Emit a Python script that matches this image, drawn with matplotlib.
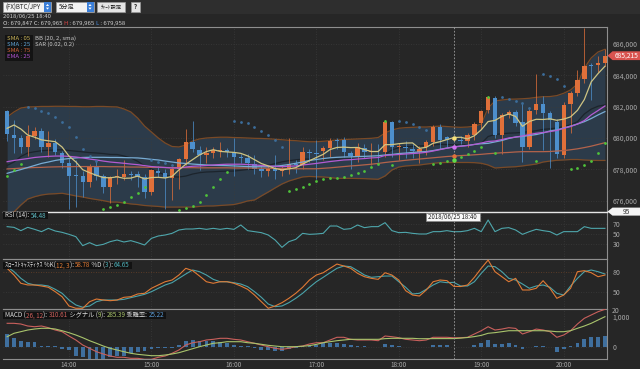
import numpy as np
import pandas as pd
import matplotlib
matplotlib.use('Agg')
import matplotlib.pyplot as plt
from matplotlib.patches import Rectangle, Polygon

plt.rcParams['font.family'] = ['Noto Sans CJK JP', 'DejaVu Sans']

# ---------------- data (5-minute candles, 13:15 .. 20:30) ----------------
opens = [681739, 680172, 679981, 679408, 680127, 680465, 679408, 679701, 679064, 678388,
         677650, 677579, 677216, 678172, 677579, 676860, 677497, 677535, 677707, 677688,
         677497, 676580, 677917, 677790, 677433, 678006, 678643, 679764, 679236, 678917,
         679064, 679180, 679236, 679108, 678771, 678707, 678344, 678006, 677879, 678044,
         677917, 678006, 678344, 678280, 679127, 679025, 679190, 679363, 679809, 679873,
         679064, 678853, 679363, 679127, 679170, 679127, 681038, 679408, 679430, 679318,
         679127, 679408, 679764, 680720, 680050, 679847, 679904, 679809, 680191, 680936,
         681784, 682529, 680191, 681465, 681675, 681038, 679446, 681784, 682166, 681573,
         681038, 678917, 682166, 682886, 683739, 684650, 684631, 684758]
closes = [680255, 680000, 679408, 680127, 680465, 679408, 679701, 679127, 678427, 677579,
          677560, 677216, 678172, 677579, 676860, 677497, 677520, 677707, 677650, 677497,
          676580, 677962, 677790, 677433, 678006, 678643, 679764, 679280, 678917, 679064,
          679236, 679240, 679108, 678771, 678750, 678427, 678044, 677879, 678006, 677917,
          678006, 678344, 678280, 679127, 679025, 679000, 679363, 679809, 679790, 679127,
          678853, 679408, 679127, 679170, 679140, 681038, 679408, 679430, 679370, 679191,
          679300, 679745, 680720, 679873, 679847, 679965, 679828, 680191, 680892, 681739,
          682593, 680191, 681465, 681675, 680936, 679446, 681739, 682166, 681612, 681147,
          678981, 682102, 682886, 683695, 684586, 684600, 684758, 685215]
highs = [681800, 681150, 680190, 680830, 680700, 680620, 680460, 679950, 679200, 678700,
         678600, 677900, 678350, 678600, 677700, 677600, 678000, 678600, 677900, 677900,
         677700, 678050, 678200, 678000, 678100, 678700, 680560, 681100, 679500, 679400,
         679400, 679770, 679350, 680000, 679000, 679000, 678900, 678300, 678200, 678900,
         678200, 680000, 678600, 679400, 679300, 679900, 679500, 680000, 680000, 680050,
         679200, 679700, 679600, 679700, 679600, 681150, 681100, 679700, 679800, 679600,
         679500, 679900, 680800, 680900, 680150, 679965, 680100, 680300, 681000, 681800,
         682700, 682650, 681600, 681800, 681800, 682210, 682000, 684100, 682650, 681700,
         681200, 682300, 683000, 684330, 687000, 684800, 685230, 685700]
lows = [679800, 679050, 679030, 678850, 679950, 679130, 678770, 678900, 678100, 675500,
        675600, 676260, 676900, 677300, 676500, 675860, 677100, 677300, 677300, 676900,
        676200, 676400, 677500, 675500, 676050, 676730, 678300, 679100, 677960, 678400,
        678700, 678800, 678800, 677600, 678400, 678000, 677700, 677500, 677600, 677400,
        677600, 677700, 677800, 678000, 678500, 677400, 678600, 678800, 679300, 678800,
        678000, 678500, 678700, 678300, 678500, 678800, 678800, 678600, 678700, 678700,
        678400, 678900, 679500, 679300, 679400, 679800, 679600, 679400, 679900, 680600,
        681600, 680000, 678950, 681300, 680760, 678490, 679300, 681500, 679250, 678100,
        678700, 678700, 680300, 682700, 683500, 682450, 684200, 684600]

sma5_head = [680618, 680828, 680573, 680191]   # first values (history before the window)

bb_upper = [681340, 681660, 681910, 681980, 681990, 682010, 682010, 682020, 682020, 682010,
            682010, 681990, 681990, 682010, 682010, 681990, 681980, 681850, 681660, 681270,
            680760, 680380, 680000, 679680, 679460, 679430, 679550, 679810, 679940, 680000,
            680030, 680050, 680050, 680030, 680020, 680000, 679980, 679970, 679950, 679920,
            679890, 679850, 679830, 679790, 679760, 679760, 679790, 679830, 679870, 679900,
            679920, 679940, 679960, 679980, 680030, 680320, 680510, 680620, 680660, 680680,
            680700, 680700, 680730, 680760, 680730, 680700, 680680, 680700, 680750, 680890,
            681910, 682360, 682420, 682470, 682480, 682500, 682530, 682590, 682630, 682640,
            682700, 682850, 683060, 683440, 684460, 685100, 685480, 685650]
bb_lower = [675160, 675290, 675730, 676110, 676260, 676370, 676430, 676450, 676480, 676400,
            676310, 676240, 676150, 676080, 676010, 675920, 675920, 675860, 675800, 675760,
            675700, 675670, 675640, 675600, 675600, 675600, 675600, 675600, 675640, 675670,
            675670, 675700, 675730, 675760, 675860, 675990, 676050, 676310, 676560, 676820,
            677070, 677260, 677390, 677520, 677550, 677530, 677520, 677480, 677430, 677430,
            677430, 677420, 677410, 677390, 677370, 677580, 677960, 678150, 678220, 678250,
            678280, 678340, 678390, 678430, 678440, 678440, 678440, 678440, 678430, 678390,
            678280, 678090, 678120, 678150, 678170, 678220, 678280, 678340, 678470, 678530,
            678580, 678600, 678630, 678630, 678600, 678580, 678570, 678570]
sma25 = [677750, 677870, 677990, 678120, 678250, 678380, 678470, 678570, 678640, 678690,
         678730, 678760, 678770, 678770, 678770, 678760, 678760, 678750, 678740, 678730,
         678690, 678640, 678600, 678530, 678470, 678410, 678380, 678340, 678310, 678280,
         678260, 678250, 678240, 678220, 678200, 678180, 678170, 678170, 678170, 678200,
         678250, 678310, 678390, 678470, 678570, 678630, 678690, 678740, 678770, 678790,
         678800, 678820, 678830, 678850, 678870, 678920, 678950, 679010, 679040, 679080,
         679110, 679140, 679200, 679280, 679360, 679430, 679490, 679530, 679590, 679630,
         679660, 679750, 679840, 679970, 680060, 680100, 680160, 680220, 680320, 680450,
         680510, 680640, 680760, 680890, 681040, 681240, 681470, 681680]
ema25 = [678490, 678570, 678630, 678690, 678760, 678800, 678830, 678850, 678850, 678830,
         678790, 678730, 678660, 678600, 678530, 678470, 678430, 678390, 678340, 678300,
         678240, 678180, 678150, 678120, 678090, 678090, 678150, 678200, 678220, 678250,
         678280, 678310, 678330, 678330, 678330, 678310, 678280, 678250, 678220, 678200,
         678180, 678200, 678220, 678280, 678330, 678380, 678440, 678500, 678550, 678600,
         678620, 678660, 678690, 678730, 678750, 678890, 678920, 678950, 678980, 679010,
         679040, 679090, 679170, 679260, 679350, 679430, 679470, 679520, 679590, 679680,
         679780, 679810, 679900, 680000, 680060, 680130, 680220, 680300, 680350, 680410,
         680480, 680620, 680730, 680890, 681110, 681470, 681750, 682040]
sma75 = [678030, 678050, 678080, 678100, 678120, 678130, 678150, 678160, 678170, 678170,
         678180, 678180, 678180, 678180, 678180, 678170, 678170, 678160, 678150, 678150,
         678140, 678130, 678130, 678120, 678110, 678110, 678110, 678110, 678100, 678100,
         678100, 678100, 678100, 678090, 678090, 678090, 678080, 678080, 678070, 678060,
         678060, 678050, 678040, 678040, 678040, 678040, 678070, 678100, 678140, 678180,
         678220, 678250, 678290, 678330, 678380, 678440, 678490, 678530, 678580, 678620,
         678660, 678700, 678740, 678780, 678820, 678850, 678880, 678900, 678930, 678960,
         679000, 679030, 679060, 679080, 679110, 679130, 679130, 679130, 679130, 679140,
         679170, 679200, 679250, 679310, 679390, 679480, 679590, 679700]

# Parabolic SAR: below price (uptrend, green) / above price (downtrend, blue)
sar_up = [677580, 677960, 678340, None, None, None, None, None, None, None,
          None, None, None, None, 675460, 675590, 675730, 675940, 676220, 676520,
          676880, None, None, None, None, 675410, 675540, 675670, 675940, 676370,
          676900, 677370, 677850, None, None, None, None, None, None, None,
          None, 676640, 676730, 676860, 677070, 677230, 677360, 677450, 677480, 677530,
          677620, 677750, 677920, 678130, 678340, 681100, 678280, None, None, None,
          None, None, 678340, 678390, 678550, 678600, 678770, 678960, 679190, 679410,
          682590, 679020, None, None, None, None, None, 678550, None, None,
          None, None, 678030, 678070, 678280, 678550, 679020, 679660]
sar_down = [None, None, None, 681960, 681890, 681740, 681570, 681360, 681040, 680680,
            680080, 679320, 678850, 678530, None, None, None, None, None, None,
            None, 678600, 678490, 678390, 678280, None, None, None, None, None,
            None, None, None, 681100, 681040, 680940, 680720, 680470, 680190, 679870,
            679450, None, None, None, None, None, None, None, None, None,
            None, None, None, None, None, None, None, 681100, 681040, 680890,
            680720, 680510, None, None, None, None, None, None, None, None,
            None, None, 682590, 682480, 682380, 682210, 681940, None, 684080, 683970,
            683760, 683310, None, None, None, None, None, None]

rsi = [64.7, 63.3, 56.7, 63.3, 59.3, 54.7, 61.3, 56.0, 53.3, 49.3,
       44.7, 26.7, 32.7, 26.7, 29.3, 34.7, 38.0, 34.0, 36.7, 32.7,
       28.0, 41.3, 46.0, 48.0, 51.3, 58.0, 60.0, 60.0, 61.3, 59.3,
       61.3, 59.3, 61.3, 59.3, 68.0, 56.7, 54.7, 52.7, 48.0, 38.0,
       23.3, 34.7, 39.3, 51.3, 49.3, 50.0, 51.3, 66.0, 66.0, 59.3,
       60.7, 68.0, 62.7, 64.7, 64.7, 72.7, 56.7, 52.7, 53.3, 51.3,
       50.0, 50.0, 54.7, 54.7, 56.7, 54.5, 54.7, 56.7, 61.3, 54.7,
       78.0, 54.7, 61.3, 62.7, 58.0, 49.3, 54.7, 59.3, 56.7, 54.7,
       48.0, 54.7, 54.7, 54.7, 64.7, 61.3, 61.3, 61.3]
stoch_k = [85.4, 75.5, 63.3, 60.8, 60.8, 59.3, 57.4, 50.9, 43.5, 29.8,
           26.4, 26.4, 36.1, 40.1, 38.6, 37.6, 38.6, 42.6, 43.5, 47.5,
           48.5, 55.9, 60.8, 65.6, 68.1, 75.5, 85.4, 81.9, 74.0, 65.6,
           63.3, 65.6, 65.6, 63.3, 59.3, 54.4, 46.0, 36.1, 26.4, 29.8,
           34.7, 41.1, 48.5, 57.4, 68.1, 75.5, 78.9, 85.4, 91.7, 88.8,
           85.4, 78.0, 73.0, 70.6, 69.1, 78.9, 75.5, 68.1, 52.4, 46.0,
           44.5, 53.4, 65.6, 68.1, 67.2, 58.8, 58.5, 60.8, 72.1, 85.4,
           97.6, 80.4, 73.0, 65.6, 70.6, 53.4, 53.4, 55.9, 67.1, 55.9,
           41.1, 46.0, 55.9, 80.4, 81.9, 78.9, 73.0, 75.5]
stoch_d = [87.8, 80.4, 70.6, 63.3, 60.8, 60.8, 59.3, 54.4, 48.5, 38.6,
           31.3, 27.9, 29.8, 36.1, 38.6, 38.6, 38.6, 39.6, 42.1, 44.5,
           47.0, 50.9, 55.9, 60.8, 64.2, 70.6, 77.0, 82.9, 80.4, 75.5,
           69.1, 65.6, 65.6, 64.2, 62.2, 58.3, 50.9, 42.6, 32.7, 28.8,
           29.8, 34.7, 41.1, 48.5, 57.4, 65.6, 72.1, 78.9, 85.4, 88.8,
           87.8, 81.9, 75.5, 72.1, 73.0, 74.0, 74.0, 65.6, 57.4, 47.5,
           48.5, 54.4, 60.8, 65.6, 64.2, 64.7, 59.3, 59.3, 65.6, 78.0,
           88.8, 87.8, 80.4, 70.6, 68.1, 62.2, 55.9, 59.3, 60.8, 57.4,
           48.5, 46.0, 59.3, 70.6, 80.4, 82.9, 80.4, 77.0]
macd = [784, 784, 761, 696, 673, 696, 641, 565, 510, 369,
        239, 75, -33, -144, -219, -284, -327, -327, -360, -360,
        -392, -392, -327, -284, -196, -88, 75, 150, 183, 239,
        261, 294, 294, 261, 239, 183, 131, 75, 20, -33,
        -65, -33, 20, 42, 108, 150, 150, 239, 327, 327,
        261, 239, 239, 239, 216, 369, 346, 314, 261, 239,
        216, 239, 327, 327, 327, 311, 314, 327, 435, 542,
        673, 565, 596, 641, 618, 435, 510, 596, 565, 510,
        327, 402, 542, 761, 948, 1056, 1163, 1240]
signal = [346, 458, 511, 565, 598, 621, 621, 598, 542, 477,
          402, 314, 216, 131, 42, -33, -88, -144, -196, -229,
          -252, -274, -274, -252, -219, -176, -111, -46, 20, 75,
          131, 150, 183, 183, 183, 150, 131, 98, 65, 42,
          20, 20, 20, 35, 55, 95, 150, 183, 216, 239,
          261, 261, 261, 261, 261, 283, 294, 294, 294, 294,
          280, 282, 284, 285, 285, 285, 300, 320, 350, 390,
          458, 479, 510, 542, 542, 542, 542, 542, 542, 531,
          510, 510, 542, 621, 696, 784, 892, 1000]
hist = [436, 305, 218, 163, 163, 55, 33, 33, -55, -87,
        -272, -327, -414, -381, -381, -327, -272, -272, -196, -163,
        -131, -55, -33, -33, -10, 87, 218, 240, 218, 196,
        196, 163, 131, 87, 55, 33, -33, -87, -87, -109,
        -109, -55, -33, 33, 55, 87, 130, 150, 150, 110,
        75, 45, 45, 20, 20, 110, 75, 45, 10, 0,
        10, 20, 65, 65, 65, 25, 20, 20, 65, 150,
        240, 110, 110, 130, 75, -65, 20, 45, 45, 20,
        -160, -65, 45, 150, 260, 330, 350, 370]

hour_idx = [9, 21, 33, 45, 57, 69, 81]
hour_labels = ['14:00', '15:00', '16:00', '17:00', '18:00', '19:00', '20:00']
price_ticks = [676000, 678000, 680000, 682000, 684000, 686000]
cursor_idx = 65
last_price = 685215

# ---------------- figure ----------------
W, H = 640, 369
BG = '#262626'
fig = plt.figure(figsize=(W / 100, H / 100), dpi=100, facecolor=BG)


def fx(px):
    return px / W


def fy(py):
    return 1 - py / H


n = len(closes)
x = np.arange(n)
o = np.array(opens, float)
c = np.array(closes, float)
hi = np.array(highs, float)
lo = np.array(lows, float)
sma5 = pd.Series(c).rolling(5, min_periods=1).mean().values
sma5[:4] = sma5_head
up_b = np.array(bb_upper, float)
lo_b = np.array(bb_lower, float)
mid_b = (up_b + lo_b) / 2
sar_u = np.array([np.nan if v is None else v for v in sar_up], float)
sar_d = np.array([np.nan if v is None else v for v in sar_down], float)

SPINE = '#8e8e8e'
GRID = '#3b3b3b'
TICKC = '#a8a8a8'
FS = 5


def make_ax(top, bottom):
    ax = fig.add_axes([fx(3), fy(bottom), 604 / W, (bottom - top) / H])
    ax.set_facecolor(BG)
    ax.set_xlim(-0.6, 87.3)
    ax.spines['left'].set_visible(False)
    for s in ['top', 'right', 'bottom']:
        ax.spines[s].set_color(SPINE)
        ax.spines[s].set_linewidth(0.8)
    ax.yaxis.tick_right()
    ax.tick_params(axis='y', length=0, pad=4, labelsize=FS, labelcolor=TICKC)
    ax.tick_params(axis='x', length=0, pad=1, labelsize=FS, labelcolor=TICKC)
    ax.set_xticks(hour_idx)
    ax.set_xticklabels([])
    for h in hour_idx:
        ax.axvline(h, color=GRID, lw=0.6, ls=(0, (1, 2)), zorder=0.6)
    ax.axvline(cursor_idx, color='#a0a0a0', lw=0.6, ls=(0, (2, 2)), zorder=6)
    return ax


# ---- main price panel ----
ax = make_ax(27.3, 211.7)
ax.set_ylim(675305, 687052)
ax.set_yticks(price_ticks)
ax.set_yticklabels([f'{v:,}' for v in price_ticks])
for p in price_ticks:
    ax.axhline(p, color=GRID, lw=0.6, ls=(0, (1, 2)), zorder=0.6)
ax.fill_between(x, lo_b, up_b, color='#2c3b4a', lw=0, zorder=0.5)
ax.plot(x, up_b, color='#7a4a26', lw=0.9, zorder=1)
ax.plot(x, lo_b, color='#7a4a26', lw=0.9, zorder=1)
ax.plot(x, mid_b, color='#1c242c', lw=0.9, zorder=1)

UPC, DNC = '#e0703a', '#4d8fcc'
cols = [UPC if cc >= oo else DNC for oo, cc in zip(o, c)]
ax.vlines(x, lo, hi, colors=cols, lw=0.7, alpha=0.75, zorder=2)
bot = np.minimum(o, c)
hgt = np.maximum(np.abs(c - o), 55)
ax.bar(x, hgt, 0.64, bottom=bot, color=cols, lw=0, zorder=3)

ax.plot(x, sma75, color='#b3634a', lw=0.9, zorder=4)
ax.plot(x, sma25, color='#78acd4', lw=0.9, zorder=4)
ax.plot(x, ema25, color='#b35bd2', lw=0.9, zorder=4)
ax.plot(x, sma5, color='#cfc482', lw=0.9, zorder=4.5)
ax.plot(x, sar_u, 'o', color='#4fc23a', ms=2.0, mew=0, zorder=5)
ax.plot(x, sar_d, 'o', color='#3c6d9a', ms=2.0, mew=0, zorder=5)
ci = cursor_idx
ax.plot([ci], [sma5[ci]], 'o', color='#f6e27a', ms=3.2, mew=0, zorder=7)
ax.plot([ci], [ema25[ci]], 'o', color='#d070f0', ms=3.2, mew=0, zorder=7)
ax.plot([ci], [sma75[ci]], 'o', color='#e0703a', ms=3.2, mew=0, zorder=7)
ax.plot([ci], [sar_u[ci]], 'o', color='#5fdc48', ms=3.2, mew=0, zorder=7)

# ---- RSI ----
ax_r = make_ax(211.7, 259.3)
ax_r.set_ylim(-0.6, 94.6)
ax_r.set_yticks([30, 50, 70])
for v in [30, 50, 70]:
    ax_r.axhline(v, color=GRID, lw=0.6, ls=(0, (1, 2)), zorder=0.6)
ax_r.plot(x, rsi, color='#4ea6ac', lw=0.8, zorder=3)
ax_r.spines['top'].set_color('#e6e6e6')
ax_r.spines['top'].set_linewidth(1.0)

# ---- Stochastics ----
ax_s = make_ax(259.3, 309.3)
ax_s.set_ylim(24.9, 98.7)
ax_s.set_yticks([50, 80])
ax_s.axhline(80, color='#6a4228', lw=0.6, ls=(0, (1, 2)), zorder=0.6)
ax_s.axhline(50, color=GRID, lw=0.6, ls=(0, (1, 2)), zorder=0.6)
ax_s.plot(x, stoch_d, color='#4aa3aa', lw=0.8, zorder=3)
ax_s.plot(x, stoch_k, color='#e07a35', lw=0.8, zorder=3)

# ---- MACD ----
ax_m = make_ax(309.3, 359.3)
ax_m.set_ylim(-392, 1242)
ax_m.set_yticks([0, 1000])
ax_m.set_yticklabels(['0', '1,000'])
ax_m.axhline(0, color=GRID, lw=0.6, ls=(0, (1, 2)), zorder=0.6)
ax_m.bar(x, hist, 0.55, color='#3f6f9e', lw=0, zorder=2)
ax_m.plot(x, macd, color='#c9605c', lw=0.8, zorder=3)
ax_m.plot(x, signal, color='#a9c46c', lw=0.8, zorder=3)
ax_m.set_xticklabels(hour_labels, fontsize=4.6)

# ---------------- overlay texts / widgets ----------------
renderer = fig.canvas.get_renderer()


def rich(x0, yc, parts, size=FS, box=None):
    xx = x0
    for s, col in parts:
        t = fig.text(fx(xx), fy(yc), s, color=col, fontsize=size, va='center', ha='left', zorder=10)
        xx += t.get_window_extent(renderer).width
    if box is not None:
        fig.add_artist(Rectangle((fx(x0 - 2), fy(yc + box)), (xx - x0 + 4) / W, 2 * box / H,
                                 transform=fig.transFigure, color='#121212', lw=0, zorder=9))
    return xx


def fig_rect(x0, y0, x1, y1, fc, ec='none', z=8, lw=0.5):
    fig.add_artist(Rectangle((fx(x0), fy(y1)), (x1 - x0) / W, (y1 - y0) / H,
                             transform=fig.transFigure, facecolor=fc, edgecolor=ec, lw=lw, zorder=z))


def fig_poly(pts, fc, z=8):
    fig.add_artist(Polygon([(fx(a), fy(b)) for a, b in pts], closed=True,
                           transform=fig.transFigure, facecolor=fc, edgecolor='none', zorder=z))


# toolbar
fig_rect(0, 0, 640, 13.5, '#2e2e2e', z=1)
fig_rect(2.5, 1.5, 51, 12, '#f2f2f2', '#9a9a9a')
fig_rect(44, 2, 51, 11.5, '#3b7fd9')
fig.text(fx(5), fy(6.8), '(FX)BTC/JPY', fontsize=4.4, color='#222', va='center', zorder=10)
fig_rect(56, 1.5, 93.5, 12, '#f2f2f2', '#9a9a9a')
fig_rect(86.5, 2, 93.5, 11.5, '#3b7fd9')
fig.text(fx(59), fy(6.8), '5分足', fontsize=4.4, color='#222', va='center', zorder=10)
for bx in (47.5, 90):
    fig_poly([(bx - 1.6, 6), (bx + 1.6, 6), (bx, 4)], 'white', z=9)
    fig_poly([(bx - 1.6, 7.6), (bx + 1.6, 7.6), (bx, 9.6)], 'white', z=9)
fig_rect(97, 2, 125, 11.5, '#e4e4e4', '#9a9a9a')
fig.text(fx(111), fy(6.9), 'ﾁｬｰﾄ設定', fontsize=3.8, color='#222', va='center', ha='center', zorder=10)
fig_rect(131, 2, 139.5, 11.5, '#e4e4e4', '#9a9a9a')
fig.text(fx(135.2), fy(6.9), '?', fontsize=4.5, color='#222', va='center', ha='center',
         weight='bold', zorder=10)

# info lines
fig.text(fx(3), fy(16.6), '2018/06/25 18:40', fontsize=4.3, color='#cfcfcf', va='center', zorder=10)
rich(3, 23.4, [('O: 679,847 C: 679,965 ', '#cfcfcf'), ('H', '#e04848'), (' : 679,965 ', '#cfcfcf'),
               ('L', '#4a90e2'), (' : 679,958', '#cfcfcf')], size=4.3)

# legend of main panel
fig_rect(5, 34.5, 32.5, 60.5, '#131313', z=8)
for yy, s, col in [(38.3, 'SMA : 05', '#cdb75a'), (44.3, 'SMA : 25', '#5fa3d6'),
                   (50.3, 'SMA : 75', '#d4663a'), (56.3, 'EMA : 25', '#b455d6')]:
    fig.text(fx(7), fy(yy), s, fontsize=4.3, color=col, va='center', zorder=10)
fig.text(fx(35), fy(38.6), 'BB (20, 2, sma)', fontsize=4.3, color='#c8c8c8', va='center', zorder=10)
fig.text(fx(35), fy(44.6), 'SAR (0.02, 0.2)', fontsize=4.3, color='#c8c8c8', va='center', zorder=10)

# indicator labels
W_ = '#dedede'
rich(5, 215.5, [('RSI (14): ', W_), ('54.48', '#5cb8c0')], size=4.5, box=3.6)
rich(5, 265.3, [('ｽﾛｰｽﾄｷｬｽﾃｨｸｽ %K(', W_), ('12, 3', '#e07a35'), ('): ', W_), ('58.78', '#e07a35'),
                (' %D (', W_), ('3', '#4fb3bb'), ('): ', W_), ('64.65', '#4fb3bb')], size=4.5, box=3.6)
rich(5, 315.3, [('MACD (', W_), ('26, 12', '#d0605c'), ('): ', W_), ('310.61', '#d0605c'),
                (' シグナル (', W_), ('9', '#a9c46c'), ('): ', W_), ('285.39', '#a9c46c'),
                (' 乖離率: ', W_), ('25.22', '#5b9bd5')], size=4.5, box=3.6)

# clipped stochastic tick "20"
fig.text(fx(611.5), fy(310.8), '20', fontsize=FS, color=TICKC, va='center', zorder=10)

# last price tag
fig_poly([(607.5, 55.7), (612.5, 51.3), (640, 51.3), (640, 60.1), (612.5, 60.1)], '#d9534f', z=9)
fig.text(fx(626.5), fy(55.8), f'{last_price:,}', fontsize=4.8, color='white', va='center',
         ha='center', zorder=10)

# cursor value tag
fig_poly([(607.5, 211.6), (612.5, 207.6), (640, 207.6), (640, 215.6), (612.5, 215.6)], '#f4f4f4', z=9)
fig.text(fx(626.5), fy(211.7), '95', fontsize=4.8, color='#333', va='center', ha='center', zorder=10)

# time tooltip
fig_rect(426, 212.6, 479.5, 220.6, '#f7f7f7', '#888888', z=9)
fig.text(fx(452.7), fy(216.6), '2018/06/25 18:40', fontsize=4.4, color='#222', va='center',
         ha='center', zorder=10)

fig.savefig('out.png', dpi=100, facecolor=BG)
